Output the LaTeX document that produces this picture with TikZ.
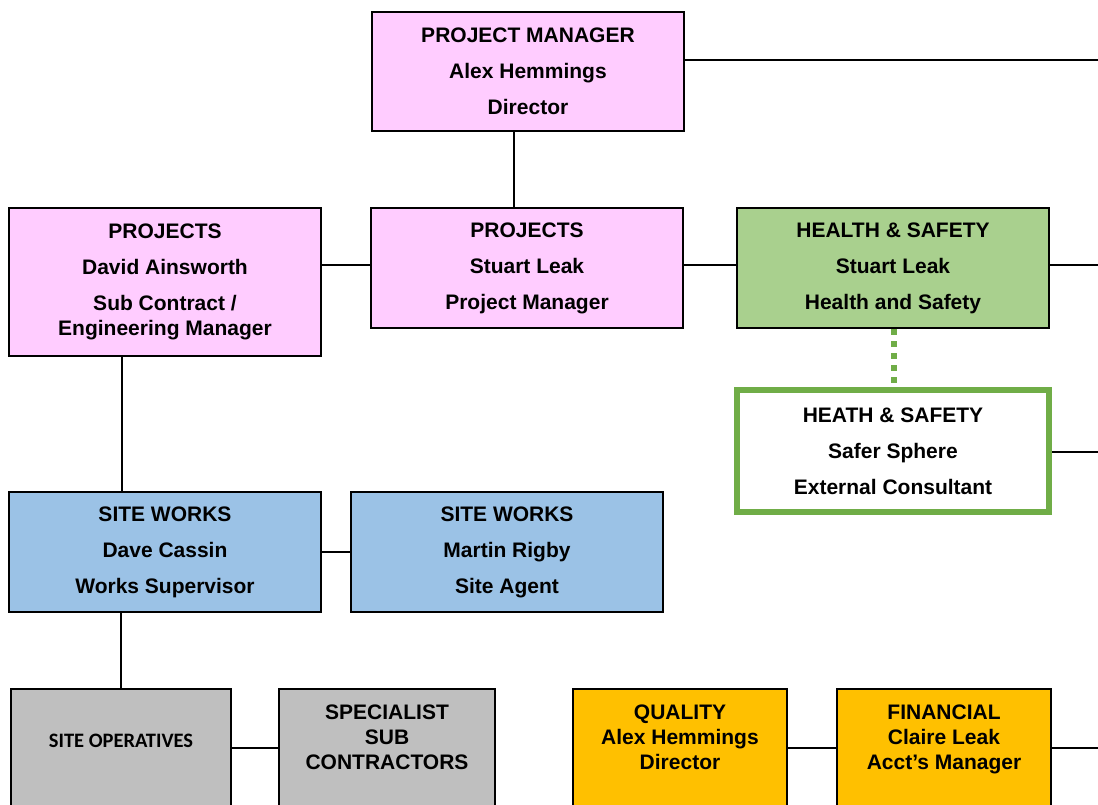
\documentclass[tikz,border=0pt]{standalone}
\usepackage{fontspec}
\setmainfont{Liberation Sans}
\newfontfamily\calibrifont{Carlito}
\usepackage{tikz}
\definecolor{orgpink}{RGB}{255, 204, 255}
\definecolor{orggreen}{RGB}{169, 208, 142}
\definecolor{orgline}{RGB}{112, 173, 71}
\definecolor{orgblue}{RGB}{155, 194, 230}
\definecolor{orggrey}{RGB}{191, 191, 191}
\definecolor{orgamber}{RGB}{255, 192, 0}

\begin{document}
\begin{tikzpicture}[
    x=1pt, y=-1pt,
    box/.style={rectangle, draw=black, line width=2pt,
                minimum width=312pt, minimum height=120pt, inner sep=0pt,
                align=center, font=\bfseries\fontsize{21}{36}\selectfont},
    lowbox/.style={box, minimum height=118pt},
    txt/.style={align=center, font=\bfseries\fontsize{21}{25}\selectfont},
    link/.style={line width=1.5pt},
  ]
  \useasboundingbox (0,0) rectangle (1098,805);
  \clip (0,0) rectangle (1098,805);

  % ── Management ───────────────────────────────────
  \node[box, fill=orgpink, minimum height=119pt] (pm) at (528,71.5)
        {PROJECT MANAGER\\Alex Hemmings\\Director};

  \node[box, fill=orgpink, minimum height=148pt] (projl) at (165,282)
        {PROJECTS\\David Ainsworth\\Sub Contract /\\[-11pt]Engineering Manager};
  \node[box, fill=orgpink] (projc) at (527,268)
        {PROJECTS\\Stuart Leak\\Project Manager};
  \node[box, fill=orggreen] (hs) at (893,268)
        {HEALTH \& SAFETY\\Stuart Leak\\Health and Safety};
  \node[box, draw=orgline, line width=6pt, fill=white, minimum height=122pt] (hsext) at (893,451)
        {HEATH \& SAFETY\\Safer Sphere\\External Consultant};

  \coordinate (pmout) at (1098,60);
  \coordinate (midrow) at (1098,265);
  \coordinate (extout) at (1098,452);
  \coordinate (pmdrop) at (514,0);

  \draw[link] (pm.east |- pmout) -- (pmout);
  \draw[link] (pm.south -| pmdrop) -- (projc.north -| pmdrop);
  \draw[link] (projl.east |- midrow) -- (projc.west |- midrow);
  \draw[link] (projc.east |- midrow) -- (hs.west |- midrow);
  \draw[link] (hs.east |- midrow) -- (midrow);
  \draw[orgline, line width=6pt, dash pattern=on 6pt off 6pt]
        ([xshift=1pt]hs.south) -- ([xshift=1pt]hsext.north);
  \draw[link] (hsext.east |- extout) -- (extout);

  % ── Site works ───────────────────────────────────
  \node[box, fill=orgblue] (swl) at (165,552)
        {SITE WORKS\\Dave Cassin\\Works Supervisor};
  \node[box, fill=orgblue] (swr) at (507,552)
        {SITE WORKS\\Martin Rigby\\Site Agent};

  \draw[link] ([xshift=-43pt]projl.south) -- ([xshift=-43pt]swl.north);
  \draw[link] (swl.east) -- (swr.west);

  % ── Bottom row ───────────────────────────────────
  \node[lowbox, fill=orggrey, minimum width=220pt] (ops) at (121,748) {};
  \node[lowbox, fill=orggrey, minimum width=216pt] (spec) at (387,748) {};
  \node[lowbox, fill=orgamber, minimum width=214pt] (qual) at (680,748) {};
  \node[lowbox, fill=orgamber, minimum width=214pt] (fin) at (944,748) {};

  \node[txt, font=\calibrifont\bfseries\fontsize{20.5}{25}\selectfont] (opstxt)
        at ([yshift=7pt]ops.center) {SITE OPERATIVES};
  \node[txt] (spectxt) at ([yshift=11pt]spec.center)
        {SPECIALIST\\SUB\\CONTRACTORS};
  \node[txt] (qualtxt) at ([yshift=11pt]qual.center)
        {QUALITY\\Alex Hemmings\\Director};
  \node[txt] (fintxt) at ([yshift=9pt]fin.center)
        {FINANCIAL\\Claire Leak\\Acct’s Manager};

  \coordinate (finout) at (1098,748);

  \draw[link] (swl.south -| ops.north) -- (ops.north);
  \draw[link] (ops.east) -- (spec.west);
  \draw[link] (qual.east) -- (fin.west);
  \draw[link] (fin.east) -- (finout);

\end{tikzpicture}
\end{document}
